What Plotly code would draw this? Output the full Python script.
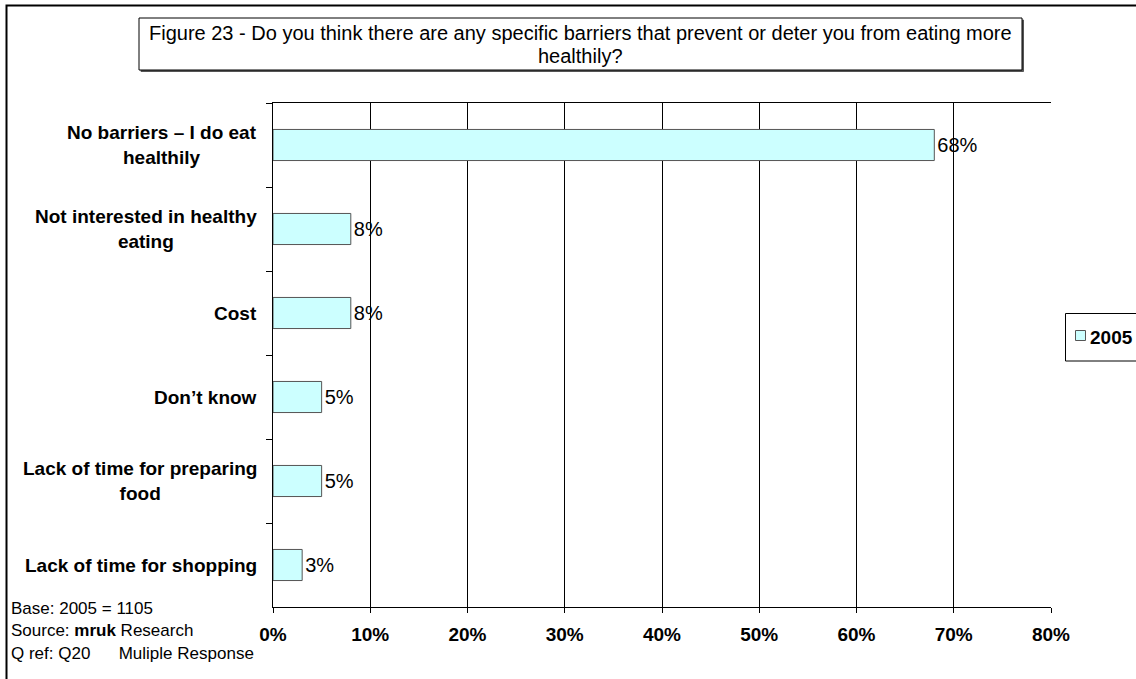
import plotly.graph_objects as go

# Survey responses (share of respondents, %)
categories = [
    "No barriers \u2013 I do eat<br>healthily",
    "Not interested in healthy<br>eating",
    "Cost",
    "Don\u2019t know",
    "Lack of time for preparing<br>food",
    "Lack of time for shopping",
]
values_2005 = [68, 8, 8, 5, 5, 3]
series_name = "2005"
x_ticks = [0, 10, 20, 30, 40, 50, 60, 70, 80]

title_lines = [
    "Figure 23 - Do you think there are any specific barriers that prevent "
    "or deter you from eating more",
    "healthily?",
]
footnotes = [
    "Base: 2005 = 1105",
    "Source: <b>mruk</b> Research",
    "Q ref: Q20" + "\u00a0" * 6 + "Muliple Response",
]

W, H = 1136, 679
L, R, T, B = 273, 85, 103, 72
PW, PH = W - L - R, H - T - B
FONT = "Liberation Sans, Arial, sans-serif"
BAR_FILL = "#CCFFFF"
BAR_EDGE = "#555555"


def px(x):
    return (x - L) / PW


def py(y):
    return (H - B - y) / PH


fig = go.Figure()
fig.add_trace(go.Bar(
    y=categories,
    x=values_2005,
    orientation="h",
    name=series_name,
    marker=dict(color=BAR_FILL, line=dict(color=BAR_EDGE, width=1)),
    text=[f"{v}%" for v in values_2005],
    textposition="outside",
    textfont=dict(family=FONT, size=20, color="black"),
    cliponaxis=False,
    showlegend=False,
))

annotations = []
# category labels, centred line by line
for cat in categories:
    annotations.append(dict(
        x=0, xref="paper", y=cat, yref="y", xshift=-14,
        xanchor="right", yanchor="middle", align="center",
        text=cat, showarrow=False,
        font=dict(family=FONT, size=19, color="black", weight="bold"),
    ))

# chart title inside its box
for i, line in enumerate(title_lines):
    annotations.append(dict(
        x=px(580.5), y=py(33 + 23 * i), xref="paper", yref="paper",
        xanchor="center", yanchor="middle", align="center",
        text=line, showarrow=False,
        font=dict(family=FONT, size=20, color="black"),
    ))

# footnotes
for i, line in enumerate(footnotes):
    annotations.append(dict(
        x=px(9), y=py(608 + 22.5 * i), xref="paper", yref="paper",
        xanchor="left", yanchor="middle", align="left",
        text=line, showarrow=False,
        font=dict(family=FONT, size=17, color="black"),
    ))

# legend entry
annotations.append(dict(
    x=px(1088), y=py(337), xref="paper", yref="paper",
    xanchor="left", yanchor="middle",
    text=series_name, showarrow=False,
    font=dict(family=FONT, size=19, color="black", weight="bold"),
))

shapes = [
    # outer chart border
    dict(type="rect", xref="paper", yref="paper",
         x0=px(6.5), x1=px(1145), y0=py(690), y1=py(5.5),
         line=dict(color="black", width=2), layer="below"),
    # title box shadow and box
    dict(type="rect", xref="paper", yref="paper",
         x0=px(141), x1=px(1023.5), y0=py(71.5), y1=py(20),
         line=dict(color="#555555", width=1), fillcolor="#555555", layer="below"),
    dict(type="rect", xref="paper", yref="paper",
         x0=px(139), x1=px(1022), y0=py(70), y1=py(18),
         line=dict(color="black", width=1), fillcolor="white", layer="below"),
    # legend box and swatch
    dict(type="rect", xref="paper", yref="paper",
         x0=px(1065.5), x1=px(1150), y0=py(361), y1=py(313.5),
         line=dict(color="black", width=1), fillcolor="white"),
    dict(type="rect", xref="paper", yref="paper",
         x0=px(1075.5), x1=px(1085.5), y0=py(340.5), y1=py(330.5),
         line=dict(color=BAR_EDGE, width=1), fillcolor=BAR_FILL),
]

fig.update_layout(
    width=W, height=H,
    margin=dict(l=L, r=R, t=T, b=B, pad=0),
    paper_bgcolor="white", plot_bgcolor="white",
    bargap=0.63,
    showlegend=False,
    annotations=annotations,
    shapes=shapes,
    font=dict(family=FONT, color="black"),
    xaxis=dict(
        range=[0, 80], tickvals=x_ticks,
        ticktext=[f"{t}%" for t in x_ticks],
        showgrid=True, gridcolor="black", gridwidth=1,
        zeroline=False,
        showline=True, linecolor="black", linewidth=1, mirror=True,
        ticks="outside", ticklen=5, tickcolor="black",
        ticklabelstandoff=5,
        tickfont=dict(family=FONT, size=19, color="black", weight="bold"),
        fixedrange=True,
    ),
    yaxis=dict(
        categoryorder="array", categoryarray=categories,
        autorange="reversed",
        showticklabels=False,
        showgrid=False, zeroline=False,
        showline=True, linecolor="black", linewidth=1,
        ticks="outside", ticklen=6, tickcolor="black",
        tickson="boundaries",
        fixedrange=True,
    ),
)

fig.write_html("out.html")
